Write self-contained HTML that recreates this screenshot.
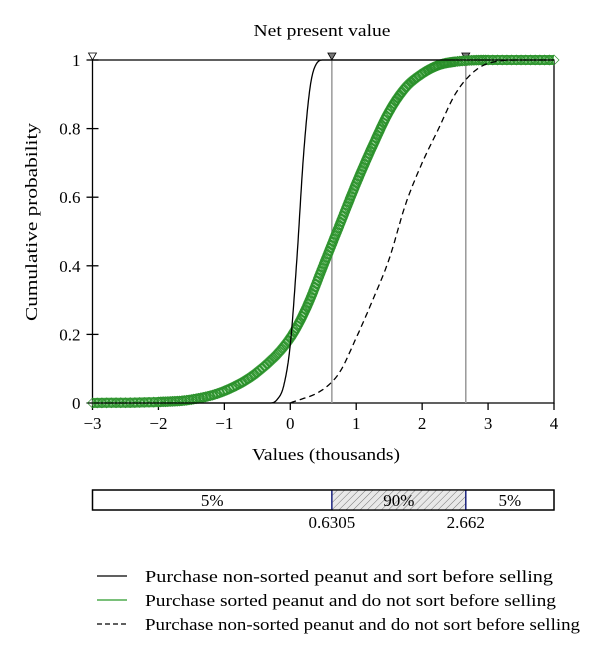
<!DOCTYPE html>
<html><head><meta charset="utf-8"><style>
body{margin:0;background:#fff;}
svg text{font-family:"Liberation Serif",serif;fill:#000;}
</style></head><body>
<svg id="chart" width="600" height="655" viewBox="0 0 600 655" xmlns="http://www.w3.org/2000/svg">
<defs>
<pattern id="hatch" width="5" height="5" patternUnits="userSpaceOnUse" patternTransform="rotate(45)">
<rect width="5" height="5" fill="#e8e8e8"/><line x1="0" y1="0" x2="0" y2="5" stroke="#777" stroke-width="1"/>
</pattern>
</defs>
<text x="322" y="36" font-size="17" text-anchor="middle" textLength="137" lengthAdjust="spacingAndGlyphs">Net present value</text>
<text transform="translate(37,222) rotate(-90)" font-size="17" text-anchor="middle" textLength="198" lengthAdjust="spacingAndGlyphs">Cumulative probability</text>
<text x="326" y="460" font-size="17" text-anchor="middle" textLength="148" lengthAdjust="spacingAndGlyphs">Values (thousands)</text>
<g id="axes"></g>
<g id="series"></g>
<g id="range-bar"></g>
<g>
<line x1="97" y1="576" x2="127" y2="576" stroke="#000" stroke-width="1.2"/>
<text x="145" y="582" font-size="17" textLength="408" lengthAdjust="spacingAndGlyphs">Purchase non-sorted peanut and sort before selling</text>
<line x1="97" y1="600" x2="127" y2="600" stroke="#2a9a2a" stroke-width="1.2"/>
<text x="145" y="606" font-size="17" textLength="411" lengthAdjust="spacingAndGlyphs">Purchase sorted peanut and do not sort before selling</text>
<line x1="97" y1="624" x2="127" y2="624" stroke="#000" stroke-width="1.2" stroke-dasharray="5,3"/>
<text x="145" y="630" font-size="17" textLength="435" lengthAdjust="spacingAndGlyphs">Purchase non-sorted peanut and do not sort before selling</text>
</g>
</svg>
<script>
const xTicks=[-3,-2,-1,0,1,2,3,4];
const yTicks=[0,0.2,0.4,0.6,0.8,1];
const yTickLabels=["0","0.2","0.4","0.6","0.8","1"];
const solidX=[-3,-0.3,-0.2,-0.1,0,0.1,0.2,0.3,0.4,0.5,4];
const solidY=[0,0,0.01,0.05,0.17,0.42,0.72,0.92,0.99,1,1];
const greenX=[-3,-2,-1.5,-1,-0.5,0,0.25,0.5,0.75,1,1.25,1.5,1.75,2,2.25,2.5,3,4];
const greenY=[0,0.003,0.01,0.035,0.09,0.19,0.28,0.4,0.52,0.64,0.75,0.85,0.92,0.96,0.985,0.995,1,1];
const dashX=[0,0.5,0.75,1,1.25,1.5,1.75,2,2.25,2.5,2.75,3,3.5,4];
const dashY=[0,0.04,0.09,0.19,0.3,0.42,0.58,0.7,0.8,0.9,0.96,0.99,1,1];
const bounds=[0.6305,2.662];
const boundLabels=["0.6305","2.662"];
const pctLabels=["5%","90%","5%"];

const NS="http://www.w3.org/2000/svg";
const X=v=>92.5+(v+3)*(461.5/7);
const Y=v=>403-v*343;
function mk(tag,attrs,parent){const e=document.createElementNS(NS,tag);for(const k in attrs)e.setAttribute(k,attrs[k]);parent.appendChild(e);return e;}
// monotone cubic sampling
function smooth(xs,ys,per){
 const n=xs.length,d=[],m=[];
 for(let i=0;i<n-1;i++)d.push((ys[i+1]-ys[i])/(xs[i+1]-xs[i]));
 for(let i=0;i<n;i++){
  if(i==0)m.push(d[0]);else if(i==n-1)m.push(d[n-2]);
  else m.push(d[i-1]*d[i]<=0?0:(d[i-1]+d[i])/2);
 }
 for(let i=0;i<n-1;i++){if(d[i]==0){m[i]=0;m[i+1]=0;}else{const a=m[i]/d[i],b=m[i+1]/d[i],s=a*a+b*b;if(s>9){const t=3/Math.sqrt(s);m[i]=t*a*d[i];m[i+1]=t*b*d[i];}}}
 const pts=[];
 for(let i=0;i<n-1;i++){
  const h=xs[i+1]-xs[i];
  for(let k=0;k<per;k++){const t=k/per,t2=t*t,t3=t2*t;
   const y=(2*t3-3*t2+1)*ys[i]+(t3-2*t2+t)*h*m[i]+(-2*t3+3*t2)*ys[i+1]+(t3-t2)*h*m[i+1];
   pts.push([xs[i]+t*h,y]);}
 }
 pts.push([xs[n-1],ys[n-1]]);
 return pts;
}
const toPath=pts=>pts.map((p,i)=>(i?'L':'M')+X(p[0]).toFixed(1)+','+Y(p[1]).toFixed(1)).join('');
const axes=document.getElementById('axes'),series=document.getElementById('series'),bar=document.getElementById('range-bar');
let e=mk('path',{d:`M${X(-3)},${Y(0)}L${X(4)},${Y(0)}L${X(4)},${Y(1)}L${X(-3)},${Y(1)}Z`,fill:'none',stroke:'#000','stroke-width':1.3},axes);


xTicks.forEach(t=>{
 let l=mk('line',{x1:X(t),x2:X(t),y1:Y(0),y2:Y(0)+7,stroke:'#000','stroke-width':1.3},axes);
 
 
 let tx=mk('text',{x:X(t),y:Y(0)+26,'font-size':17,'text-anchor':'middle'},axes);
 tx.textContent=t<0?'\u2212'+(-t):String(t);
 
 
});
yTicks.forEach((t,i)=>{
 let l=mk('line',{x1:X(-3)-6,x2:X(-3)+6,y1:Y(t),y2:Y(t),stroke:'#000','stroke-width':1.3},axes);
 
 
 let tx=mk('text',{x:X(-3)-12,y:Y(t)+6,'font-size':17,'text-anchor':'end'},axes);
 tx.textContent=yTickLabels[i];
 
 
});
bounds.forEach(b=>{
 let l=mk('line',{x1:X(b),x2:X(b),y1:Y(0),y2:Y(1),stroke:'#999','stroke-width':1.5},axes);
 
 
});
[[-3,'#fff'],[bounds[0],'#777'],[bounds[1],'#777']].forEach(([v,f])=>{
 let p=mk('path',{d:`M${X(v)-4},${Y(1)-7}L${X(v)+4},${Y(1)-7}L${X(v)},${Y(1)}Z`,fill:f,stroke:'#000','stroke-width':0.8},axes);
 
 
});
const gpts=smooth(greenX,greenY,14);
const gpath=toPath(gpts);
let g=mk('path',{d:gpath,fill:'none',stroke:'#3d9f3d','stroke-width':10,'stroke-linejoin':'round'},series);


let g2=mk('path',{d:gpath,fill:'none',stroke:'#a8dca8','stroke-width':5,'stroke-dasharray':'1.5,2'},series);


gpts.forEach(p=>{
 let d=mk('path',{d:`M${X(p[0])-5},${Y(p[1])}l5,-5l5,5l-5,5Z`,fill:'none',stroke:'#2a8f2a','stroke-width':0.7},series);
 
 
});
function line(xs,ys,name,dash){
 const p=mk('path',{d:toPath(smooth(xs,ys,12)),fill:'none',stroke:'#000','stroke-width':1.3,'stroke-linejoin':'round'},series);
 if(dash)p.setAttribute('stroke-dasharray','6,4');
 
 
}
line(solidX,solidY,'solid-series',false);
line(dashX,dashY,'dashed-series',true);
const by=490,bh=20;
let r=mk('rect',{x:X(-3),y:by,width:X(4)-X(-3),height:bh,fill:'#fff',stroke:'#000','stroke-width':1.3},bar);


let h=mk('rect',{x:X(bounds[0]),y:by,width:X(bounds[1])-X(bounds[0]),height:bh,fill:'url(#hatch)',stroke:'none'},bar);


bounds.forEach((b,i)=>{
 let l=mk('line',{x1:X(b),x2:X(b),y1:by,y2:by+bh,stroke:'#1a237e','stroke-width':1.5},bar);
 
 
 let t=mk('text',{x:X(b),y:by+38,'font-size':17,'text-anchor':'middle'},bar);
 t.textContent=boundLabels[i];
 
 
});
mk('rect',{x:X(-3),y:by,width:X(4)-X(-3),height:bh,fill:'none',stroke:'#000','stroke-width':1.3},bar);
const segs=[[-3,bounds[0]],[bounds[0],bounds[1]],[bounds[1],4]];
segs.forEach((s,i)=>{
 let t=mk('text',{x:(X(s[0])+X(s[1]))/2,y:by+16,'font-size':17,'text-anchor':'middle'},bar);
 t.textContent=pctLabels[i];
 
 
});
</script>
</body></html>
